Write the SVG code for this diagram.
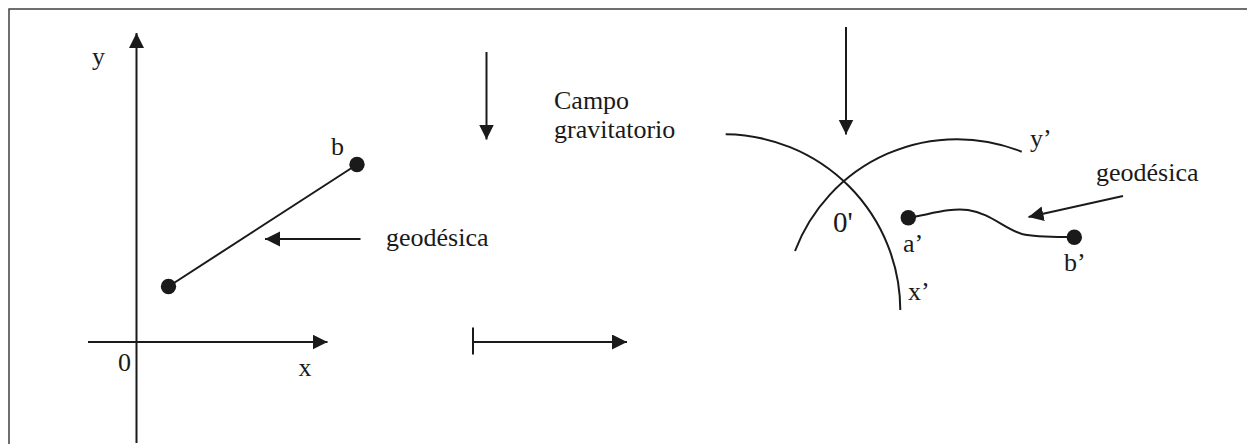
<svg xmlns="http://www.w3.org/2000/svg" width="1247" height="444" viewBox="0 0 1247 444">
  <style>
    .ln { stroke: #1a1a1a; stroke-width: 2; fill: none; }
    .arr { stroke: #1a1a1a; stroke-width: 2; fill: none; marker-end: url(#ah); }
    .dot { fill: #1a1a1a; }
    .t { font-family: "Liberation Serif", "Times New Roman", serif; font-size: 26px; fill: #1a1a1a; }
  </style>
  <defs>
    <marker id="ah" markerUnits="userSpaceOnUse" markerWidth="16" markerHeight="16" refX="15" refY="7.5" orient="auto">
      <path d="M0,0 L15,7.5 L0,15 z" fill="#1a1a1a"/>
    </marker>
  </defs>
  <rect x="0" y="0" width="1247" height="444" fill="#ffffff"/>
  <rect id="frame" x="9" y="9" width="1260" height="460" fill="none" stroke="#333333" stroke-width="1.4"/>

  <g id="flat-axes">
    <line class="arr" x1="136.5" y1="443" x2="136.5" y2="33"/>
    <line class="arr" x1="88" y1="342" x2="327.5" y2="342"/>
    <text class="t" x="92" y="65">y</text>
    <text class="t" x="118" y="371">0</text>
    <text class="t" x="298.5" y="376">x</text>
  </g>

  <g id="flat-geodesic">
    <line class="ln" x1="168.5" y1="286.5" x2="357" y2="164.5"/>
    <circle class="dot" cx="168.5" cy="286.5" r="7.7"/>
    <circle class="dot" cx="357" cy="164.5" r="7.7"/>
    <text class="t" x="331" y="155">b</text>
  </g>

  <g id="flat-label">
    <text class="t" x="386" y="246">geodésica</text>
  </g>

  <g id="field-label">
    <text class="t" x="554" y="109">Campo</text>
    <text class="t" x="554" y="138">gravitatorio</text>
  </g>

  <g id="curved-axes">
    <path class="ln" d="M725.7,134.3 A176.3,176.3 0 0 1 900.3,310"/>
    <path class="ln" d="M795,251 A173.2,173.2 0 0 1 1021.7,151.7"/>
    <text class="t" x="1030" y="147">y’</text>
    <text class="t" x="908" y="300">x’</text>
    <text class="t" x="833" y="232" style="font-size:29px">0'</text>
  </g>

  <g id="curved-geodesic">
    <path class="ln" d="M908,218 C935,213 950,208 968,210 C990,213 1005,229 1022,234 C1036,237.5 1055,237 1074,237"/>
    <circle class="dot" cx="908.3" cy="217.7" r="7.7"/>
    <circle class="dot" cx="1074.3" cy="237.3" r="7.7"/>
    <text class="t" x="903" y="252">a’</text>
    <text class="t" x="1064" y="271">b’</text>
  </g>

  <g id="curved-label">
    <text class="t" x="1096" y="181">geodésica</text>
  </g>

  <g id="connectors">
    <line class="arr" x1="360.5" y1="239" x2="265" y2="239"/>
    <line class="arr" x1="486.5" y1="52" x2="486.5" y2="139.5"/>
    <line class="ln" x1="473" y1="327.5" x2="473" y2="354.5"/>
    <line class="arr" x1="473" y1="342" x2="627" y2="342"/>
    <line class="arr" x1="846" y1="27" x2="846" y2="134.5"/>
    <line class="arr" x1="1123" y1="196" x2="1028.5" y2="217"/>
  </g>
</svg>
